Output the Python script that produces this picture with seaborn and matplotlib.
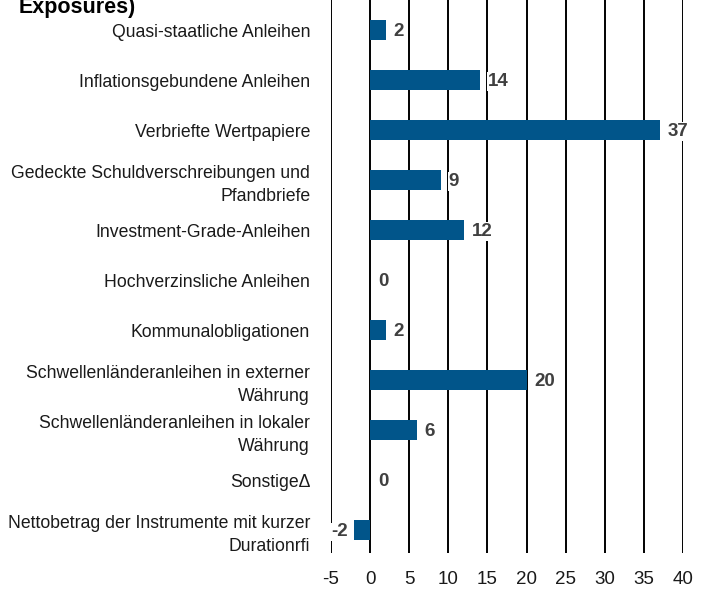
import matplotlib
matplotlib.use("Agg")
import matplotlib.pyplot as plt
import seaborn as sns
import pandas as pd

categories = [
    "Quasi-staatliche Anleihen",
    "Inflationsgebundene Anleihen",
    "Verbriefte Wertpapiere",
    "Gedeckte Schuldverschreibungen und\nPfandbriefe",
    "Investment-Grade-Anleihen",
    "Hochverzinsliche Anleihen",
    "Kommunalobligationen",
    "Schwellenländeranleihen in externer\nWährung",
    "Schwellenländeranleihen in lokaler\nWährung",
    "Sonstige\u0394",
    "Nettobetrag der Instrumente mit kurzer\nDurationr\ufb01",
]
values = [2, 14, 37, 9, 12, 0, 2, 20, 6, 0, -2]
value_labels = ["2", "14", "37", "9", "12", "0", "2", "20", "6", "0", "-2"]
xticks = [-5, 0, 5, 10, 15, 20, 25, 30, 35, 40]
title_tail = "Exposures)"

sns.set_theme(style="white")
plt.rcParams["font.family"] = ["Liberation Sans", "DejaVu Sans"]

df = pd.DataFrame({"cat": categories, "val": values})

fig = plt.figure(figsize=(7.07, 5.94), dpi=100)
ax = fig.add_axes([331 / 707, 1 - 553 / 594, (683 - 331) / 707, 553 / 594])

sns.barplot(data=df, x="val", y="cat", orient="h", color="#01558A",
            saturation=1, width=0.4, ax=ax, zorder=3, linewidth=0)

ax.set_xlim(-5, 40)
ax.set_ylim(10.45, -0.6)
ax.set_xticks(xticks)
ax.set_xticklabels([str(t) for t in xticks], fontsize=13.5, color="#1a1a1a")
ax.tick_params(axis="x", length=0, pad=13)
ax.tick_params(axis="y", length=0, pad=15)
for lab in ax.get_yticklabels():
    lab.set_fontsize(12.7)
    lab.set_color("#1a1a1a")
    lab.set_multialignment("right")
    lab.set_linespacing(1.45)
ax.set_xlabel("")
ax.set_ylabel("")
for s in ax.spines.values():
    s.set_visible(False)
for t in xticks:
    ax.axvline(t, color="black", lw=1.4, zorder=1, ymin=0, ymax=1)

for i, (v, lab) in enumerate(zip(values, value_labels)):
    kw = dict(va="center", fontsize=13.5, fontweight="bold", color="#404040",
              zorder=4, family=["Liberation Sans Narrow", "Liberation Sans"],
              bbox=dict(facecolor="white", edgecolor="none", pad=0.5))
    if v >= 0:
        ax.text(v + 1.0, i + 0.03, lab, ha="left", **kw)
    else:
        ax.text(v - 0.9, i + 0.03, lab, ha="right", **kw)

fig.text(19 / 707, 1 - 12.5 / 594, title_tail, ha="left", va="baseline",
         fontsize=15.5, fontweight="bold", color="black")

fig.savefig("out.png", dpi=100)
